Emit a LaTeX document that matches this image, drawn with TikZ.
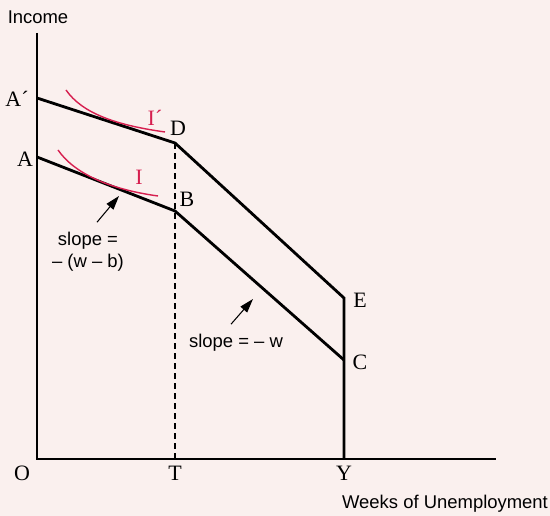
\documentclass[tikz,border=0pt]{standalone}
\usepackage{fontspec}
\setmainfont{Liberation Serif}
\setsansfont{Liberation Sans}
\usetikzlibrary{arrows.meta}
\definecolor{paper}{RGB}{250,240,238}
\definecolor{icurve}{RGB}{214,31,79}

\begin{document}
\begin{tikzpicture}[x=0.02cm,y=-0.02cm,
  axis/.style={line width=0.8pt},
  budget/.style={line width=1.6pt,line join=miter},
  indiff/.style={icurve,line width=0.8pt},
  ptlabel/.style={font=\fontsize{12.5}{14}\selectfont},
  slopelabel/.style={font=\sffamily\fontsize{10.5}{12.5}\selectfont,align=center},
  pointer/.style={-{Triangle[length=8pt,width=5pt]},line width=0.6pt}]
%background
\fill[paper] (0,0) rectangle (550,516);
\useasboundingbox (0,0) rectangle (550,516);

%points
\coordinate (top) at (37,33);
\coordinate (O) at (37,459);
\coordinate (right) at (496,459);
\coordinate (T) at (175,459);
\coordinate (Y) at (344,459);
\coordinate (Ap) at (37,98);
\coordinate (D) at (175,143);
\coordinate (E) at (344,298);
\coordinate (A) at (37,157);
\coordinate (B) at (175,211);
\coordinate (C) at (344,360);

%axes
\draw[axis] (top) -- (O) -- (right);
\draw[axis,dash pattern=on 3.4pt off 2.3pt] (T) -- (D);

%budget lines
\draw[budget] (Ap) -- (D) -- (E) -- (Y);
\draw[budget] (A) -- (B) -- (C);

%indifference curves
\draw[indiff] (66,90) .. controls (82,113) and (115,125) .. (165,132);
\draw[indiff] (58,150) .. controls (74,173) and (108,189) .. (158,196);

%labels
\node[ptlabel] (lAp) at (17,99) {A´};
\node[ptlabel] (lA) at (25,159) {A};
\node[ptlabel] (lD) at (178,128) {D};
\node[ptlabel] (lB) at (187,199) {B};
\node[ptlabel] (lE) at (360,300) {E};
\node[ptlabel] (lC) at (360,362) {C};
\node[ptlabel] (lO) at (22,473) {O};
\node[ptlabel] (lT) at (175,473) {T};
\node[ptlabel] (lY) at (344,473) {Y};
\node[ptlabel,icurve] (lIp) at (155,118) {I´};
\node[ptlabel,icurve] (lI) at (139,177) {I};

%axis titles
\node[slopelabel] (income) at (38,17) {Income};
\node[slopelabel] (weeks) at (445,504) {Weeks of Unemployment};

%slopes
\node[slopelabel] (slope1) at (88,252) {slope =\\-- (w -- b)};
\node[slopelabel] (slope2) at (236,343) {slope = -- w};
\coordinate (tip1) at (119,196);
\coordinate (tip2) at (253,299);
\draw[pointer] (slope1.north) ++(9,-4) coordinate (tail1) (tail1) -- (tip1);
\draw[pointer] (slope2.north) ++(-5,-4) coordinate (tail2) (tail2) -- (tip2);
\end{tikzpicture}
\end{document}
